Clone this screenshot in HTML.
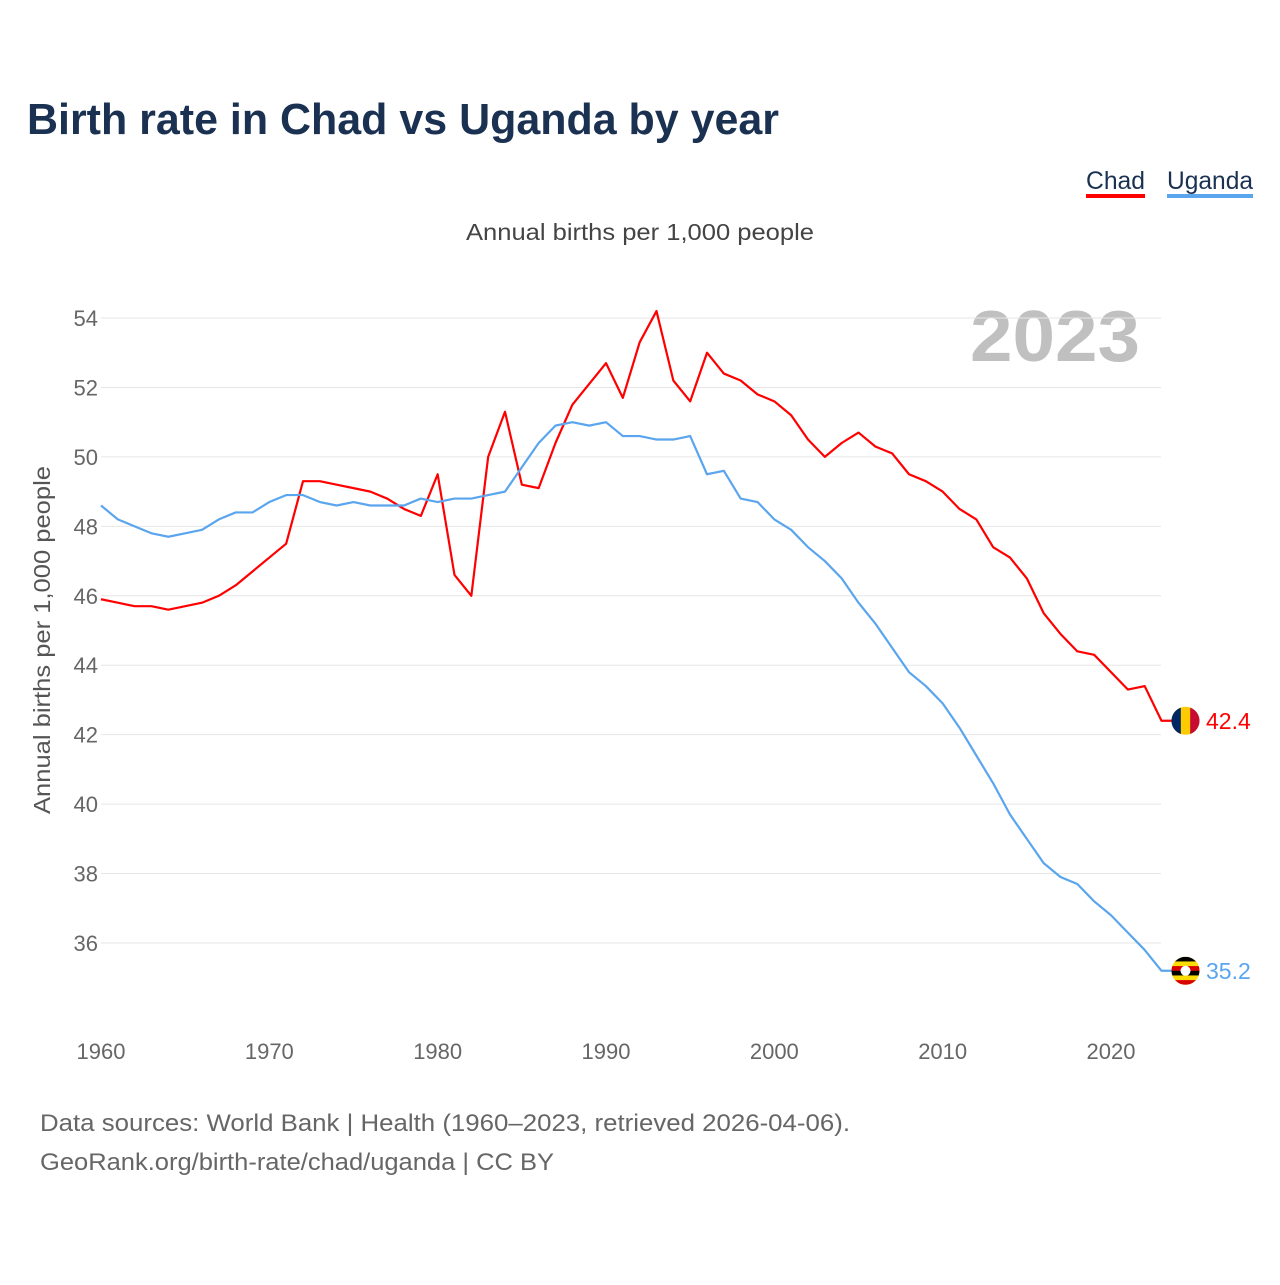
<!DOCTYPE html>
<html><head><meta charset="utf-8"><style>
body{margin:0;background:#fff;font-family:"Liberation Sans",sans-serif}
</style></head><body>
<svg id="chart" width="1280" height="1280" xmlns="http://www.w3.org/2000/svg" style="font-family:'Liberation Sans',sans-serif">
<defs><clipPath id="ugclip"><circle cx="1185.5" cy="970.5" r="14"/></clipPath></defs>
<text x="27" y="134" font-size="44" font-weight="bold" fill="#1b3152" textLength="752" lengthAdjust="spacingAndGlyphs">Birth rate in Chad vs Uganda by year</text>
<g><text x="1086" y="189" font-size="25" fill="#1b3152" textLength="59" lengthAdjust="spacingAndGlyphs">Chad</text><rect x="1086" y="194" width="59" height="4" fill="#ff0000"/></g>
<g><text x="1167" y="189" font-size="25" fill="#1b3152" textLength="86" lengthAdjust="spacingAndGlyphs">Uganda</text><rect x="1167" y="194" width="86" height="4" fill="#5aa5ee"/></g>
<text x="466" y="240" font-size="23" fill="#444" textLength="348" lengthAdjust="spacingAndGlyphs">Annual births per 1,000 people</text>
<text x="970" y="361" font-size="72" font-weight="bold" fill="#c0c0c0" textLength="170" lengthAdjust="spacingAndGlyphs">2023</text>
<text transform="translate(50,814) rotate(-90)" font-size="23" fill="#555" textLength="348" lengthAdjust="spacingAndGlyphs">Annual births per 1,000 people</text>
<g id="grid"></g><g id="yticks"></g><g id="xticks"></g><g id="lines"></g>
<text x="40" y="1131" font-size="24" fill="#666" textLength="810" lengthAdjust="spacingAndGlyphs">Data sources: World Bank | Health (1960–2023, retrieved 2026-04-06).</text>
<text x="40" y="1170" font-size="24" fill="#666" textLength="514" lengthAdjust="spacingAndGlyphs">GeoRank.org/birth-rate/chad/uganda | CC BY</text>
</svg>
<script>
const years=[];for(let y=1960;y<=2023;y++)years.push(y);
const chad=[45.9,45.8,45.7,45.7,45.6,45.7,45.8,46.0,46.3,46.7,47.1,47.5,49.3,49.3,49.2,49.1,49.0,48.8,48.5,48.3,49.5,46.6,46.0,50.0,51.3,49.2,49.1,50.4,51.5,52.1,52.7,51.7,53.3,54.2,52.2,51.6,53.0,52.4,52.2,51.8,51.6,51.2,50.5,50.0,50.4,50.7,50.3,50.1,49.5,49.3,49.0,48.5,48.2,47.4,47.1,46.5,45.5,44.9,44.4,44.3,43.8,43.3,43.4,42.4];
const uganda=[48.6,48.2,48.0,47.8,47.7,47.8,47.9,48.2,48.4,48.4,48.7,48.9,48.9,48.7,48.6,48.7,48.6,48.6,48.6,48.8,48.7,48.8,48.8,48.9,49.0,49.7,50.4,50.9,51.0,50.9,51.0,50.6,50.6,50.5,50.5,50.6,49.5,49.6,48.8,48.7,48.2,47.9,47.4,47.0,46.5,45.8,45.2,44.5,43.8,43.4,42.9,42.2,41.4,40.6,39.7,39.0,38.3,37.9,37.7,37.2,36.8,36.3,35.8,35.2];
const yTicks=[36,38,40,42,44,46,48,50,52,54];
const xTicks=[1960,1970,1980,1990,2000,2010,2020];
const X=v=>101+(v-1960)*1010/60, Y=v=>318+(54-v)*625/18;
const NS="http://www.w3.org/2000/svg";
function mk(t,a,p){const e=document.createElementNS(NS,t);for(const k in a)e.setAttribute(k,a[k]);p.appendChild(e);return e;}
const g=document.getElementById('grid'),yt=document.getElementById('yticks'),xt=document.getElementById('xticks'),ln=document.getElementById('lines');
yTicks.forEach(v=>{const l=mk('line',{x1:101,x2:1161,y1:Y(v),y2:Y(v),stroke:'#e6e6e6','stroke-width':1},g);


const t=mk('text',{x:98,y:Y(v)+8,'font-size':22,fill:'#666','text-anchor':'end'},yt);t.textContent=v;

});
xTicks.forEach(v=>{const t=mk('text',{x:X(v),y:1059,'font-size':22,fill:'#666','text-anchor':'middle'},xt);t.textContent=v;

});
function series(d,c,name){const pts=d.map((v,i)=>X(years[i])+','+Y(v));const last=d[d.length-1];pts.push('1172,'+Y(last));
const p=mk('polyline',{points:pts.join(' '),fill:'none',stroke:c,'stroke-width':2.2,'stroke-linejoin':'round'},ln);


const cx=1185.5,cy=Y(last);
const f=mk('circle',{cx:cx,cy:cy,r:14,fill:'#fecb00'},ln);


if(name=='chad'){mk('path',{d:`M${cx-4.7},${cy-13.2} A14,14 0 0 0 ${cx-4.7},${cy+13.2}Z`,fill:'#002664'},ln);mk('path',{d:`M${cx+4.7},${cy-13.2} A14,14 0 0 1 ${cx+4.7},${cy+13.2}Z`,fill:'#c60c30'},ln);}
else{const gg=mk('g',{'clip-path':'url(#ugclip)',transform:`translate(0,${cy-970.5})`},ln);
[[-14,'#000'],[-9.33,'#fcdc04'],[-4.67,'#d90000'],[0,'#000'],[4.67,'#fcdc04'],[9.33,'#d90000']].forEach(([o,col])=>{mk('rect',{x:cx-14,y:970.5+o,width:28,height:4.8,fill:col},gg);});mk('circle',{cx:cx,cy:970.5,r:5,fill:'#fff'},gg);}
const t=mk('text',{x:1206,y:cy+8,'font-size':23,fill:c},ln);t.textContent=last;

}
series(chad,'#ff0000','chad');
series(uganda,'#5aa5ee','uganda');
</script>
</body></html>
